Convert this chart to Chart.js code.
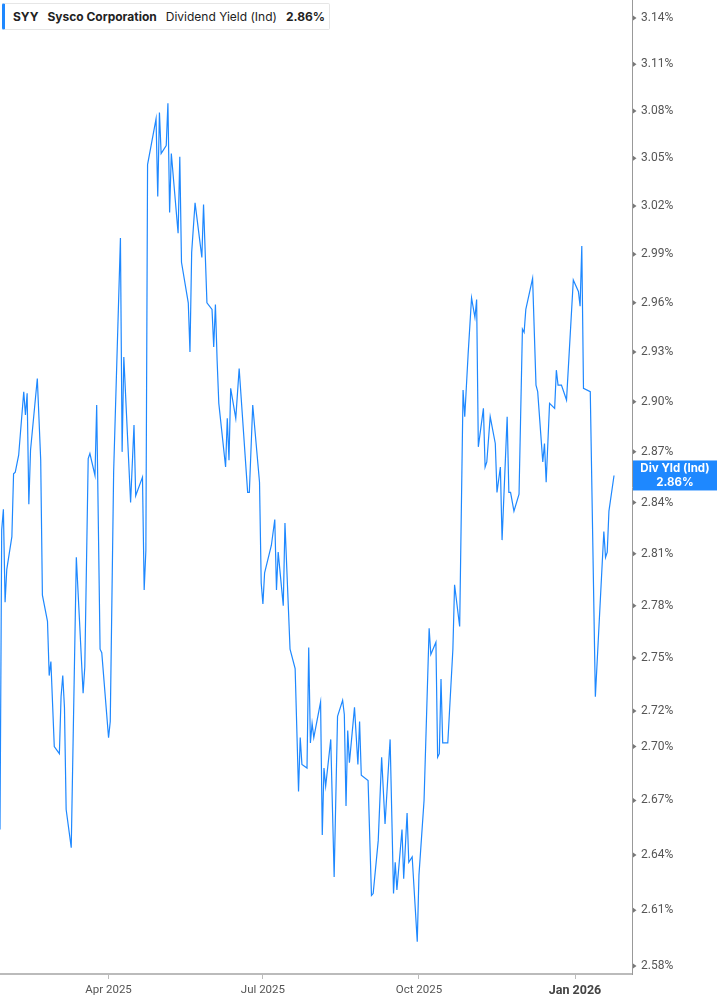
<!DOCTYPE html>
<html lang="en">
  <head>
    <script src="https://cdn.jsdelivr.net/npm/chart.js"></script>
    <style>
      body { margin: 0; background: #fff; }
      #wrap { position: relative; width: 717px; height: 1005px; }
      #legend {
        position: absolute; left: 2px; top: 3px; height: 27px; width: 328px;
        box-sizing: border-box; border: 1px solid #e6e6e6; border-left: 3px solid #1e88ff;
        border-radius: 2px; background: #fff;
        font: 12px Inter, 'Noto Sans', sans-serif; color: #222;
        display: flex; align-items: center; padding-left: 8px; white-space: nowrap;
      }
      #legend span { margin-right: 9px; }
      #legend b { font-weight: 700; }
    </style>
  </head>
  <body>
    <div id="wrap">
      <canvas id="chart"></canvas>
      <div id="legend">
        <span><b>SYY</b></span><span><b>Sysco Corporation</b></span><span>Dividend Yield (Ind)</span><span><b id="lastVal"></b></span>
      </div>
    </div>
    <script type="text/javascript">
      // dividend yield (ind), %
      const dates = [
        '2025-01-27', '2025-01-28', '2025-01-29', '2025-01-30', '2025-01-31', '2025-02-03', '2025-02-04', '2025-02-05',
        '2025-02-07', '2025-02-10', '2025-02-11', '2025-02-12', '2025-02-13', '2025-02-14', '2025-02-18', '2025-02-20',
        '2025-02-21', '2025-02-24', '2025-02-25', '2025-02-26', '2025-02-28', '2025-03-03', '2025-03-04', '2025-03-05',
        '2025-03-06', '2025-03-07', '2025-03-10', '2025-03-13', '2025-03-17', '2025-03-18', '2025-03-20', '2025-03-21',
        '2025-03-24', '2025-03-25', '2025-03-27', '2025-03-28', '2025-04-01', '2025-04-02', '2025-04-04', '2025-04-08',
        '2025-04-09', '2025-04-10', '2025-04-14', '2025-04-16', '2025-04-17', '2025-04-21', '2025-04-22', '2025-04-23',
        '2025-04-24', '2025-04-29', '2025-04-30', '2025-05-01', '2025-05-02', '2025-05-05', '2025-05-06', '2025-05-07',
        '2025-05-08', '2025-05-12', '2025-05-13', '2025-05-14', '2025-05-18', '2025-05-19', '2025-05-20', '2025-05-22',
        '2025-05-26', '2025-05-27', '2025-05-29', '2025-06-01', '2025-06-02', '2025-06-03', '2025-06-04', '2025-06-05',
        '2025-06-09', '2025-06-10', '2025-06-11', '2025-06-12', '2025-06-15', '2025-06-17', '2025-06-22', '2025-06-23',
        '2025-06-25', '2025-06-29', '2025-06-30', '2025-07-01', '2025-07-02', '2025-07-06', '2025-07-08', '2025-07-09',
        '2025-07-10', '2025-07-13', '2025-07-14', '2025-07-17', '2025-07-20', '2025-07-22', '2025-07-23', '2025-07-24',
        '2025-07-27', '2025-07-28', '2025-07-29', '2025-07-30', '2025-07-31', '2025-08-04', '2025-08-05', '2025-08-06',
        '2025-08-07', '2025-08-10', '2025-08-12', '2025-08-14', '2025-08-17', '2025-08-18', '2025-08-19', '2025-08-20',
        '2025-08-21', '2025-08-24', '2025-08-26', '2025-08-27', '2025-08-28', '2025-09-01', '2025-09-03', '2025-09-04',
        '2025-09-07', '2025-09-09', '2025-09-11', '2025-09-14', '2025-09-16', '2025-09-17', '2025-09-18', '2025-09-21',
        '2025-09-22', '2025-09-24', '2025-09-25', '2025-09-27', '2025-09-30', '2025-10-01', '2025-10-04', '2025-10-07',
        '2025-10-08', '2025-10-11', '2025-10-12', '2025-10-13', '2025-10-14', '2025-10-15', '2025-10-18', '2025-10-21',
        '2025-10-22', '2025-10-25', '2025-10-27', '2025-10-28', '2025-10-30', '2025-11-01', '2025-11-03', '2025-11-04',
        '2025-11-05', '2025-11-08', '2025-11-09', '2025-11-10', '2025-11-12', '2025-11-15', '2025-11-16', '2025-11-18',
        '2025-11-19', '2025-11-22', '2025-11-23', '2025-11-24', '2025-11-26', '2025-11-29', '2025-12-01', '2025-12-02',
        '2025-12-03', '2025-12-07', '2025-12-09', '2025-12-10', '2025-12-13', '2025-12-14', '2025-12-15', '2025-12-17',
        '2025-12-20', '2025-12-21', '2025-12-22', '2025-12-24', '2025-12-27', '2025-12-31', '2026-01-03', '2026-01-04',
        '2026-01-05', '2026-01-06', '2026-01-10', '2026-01-13', '2026-01-18', '2026-01-19', '2026-01-20', '2026-01-21',
        '2026-01-24'
      ];
      const yields = [
        2.654, 2.824, 2.836, 2.782, 2.801, 2.820, 2.857, 2.858,
        2.868, 2.906, 2.892, 2.905, 2.839, 2.871, 2.914, 2.865,
        2.786, 2.771, 2.740, 2.748, 2.700, 2.696, 2.728, 2.740,
        2.722, 2.665, 2.644, 2.808, 2.730, 2.745, 2.866, 2.869,
        2.856, 2.898, 2.755, 2.753, 2.705, 2.714, 2.858, 3.000,
        2.870, 2.927, 2.840, 2.886, 2.844, 2.855, 2.789, 2.812,
        3.046, 3.075, 3.026, 3.079, 3.053, 3.058, 3.085, 3.016,
        3.053, 3.003, 3.051, 2.985, 2.960, 2.930, 2.991, 3.022,
        2.988, 3.021, 2.960, 2.956, 2.933, 2.959, 2.925, 2.899,
        2.861, 2.890, 2.865, 2.908, 2.890, 2.920, 2.846, 2.846,
        2.898, 2.852, 2.793, 2.781, 2.799, 2.815, 2.830, 2.789,
        2.811, 2.780, 2.828, 2.755, 2.744, 2.675, 2.705, 2.690,
        2.688, 2.756, 2.702, 2.713, 2.705, 2.725, 2.651, 2.688,
        2.678, 2.704, 2.628, 2.717, 2.726, 2.718, 2.667, 2.709,
        2.691, 2.722, 2.690, 2.714, 2.684, 2.681, 2.618, 2.619,
        2.648, 2.694, 2.657, 2.704, 2.619, 2.636, 2.621, 2.654,
        2.627, 2.663, 2.636, 2.639, 2.593, 2.629, 2.670, 2.767,
        2.752, 2.759, 2.694, 2.696, 2.738, 2.702, 2.702, 2.755,
        2.792, 2.768, 2.907, 2.891, 2.929, 2.963, 2.951, 2.962,
        2.873, 2.896, 2.861, 2.864, 2.891, 2.875, 2.846, 2.861,
        2.818, 2.891, 2.846, 2.846, 2.835, 2.845, 2.944, 2.942,
        2.956, 2.975, 2.910, 2.906, 2.864, 2.875, 2.852, 2.899,
        2.896, 2.919, 2.910, 2.910, 2.901, 2.974, 2.967, 2.958,
        2.995, 2.908, 2.906, 2.728, 2.823, 2.808, 2.811, 2.835,
        2.856
      ];
      const yTicks = [2.58, 2.61, 2.64, 2.67, 2.70, 2.72, 2.75, 2.78, 2.81, 2.84, 2.87, 2.90, 2.93, 2.96, 2.99, 3.02, 3.05, 3.08, 3.11, 3.14];
      const xTickDates = ['2025-04-01', '2025-07-01', '2025-10-01', '2026-01-01'];
      const xTickLabels = ['Apr 2025', 'Jul 2025', 'Oct 2025', 'Jan 2026'];

      const BLUE = '#1e88ff';
      const dayNum = (s) => {
        const [y, m, d] = s.split('-').map(Number);
        return Date.UTC(y, m - 1, d) / 86400000;
      };
      const lastVal = yields[yields.length - 1];
      document.getElementById('lastVal').textContent = lastVal.toFixed(2) + '%';

      // little arrow marks on the right axis + current value box
      const axisExtras = {
        id: 'axisExtras',
        afterDraw(chart) {
          const ctx = chart.ctx;
          const ys = chart.scales.y;
          const right = chart.chartArea.right;
          ctx.save();
          ctx.fillStyle = '#777';
          ys.ticks.forEach((t) => {
            const py = ys.getPixelForValue(t.value);
            ctx.beginPath();
            ctx.moveTo(right + 1, py - 2.5);
            ctx.lineTo(right + 4.5, py);
            ctx.lineTo(right + 1, py + 2.5);
            ctx.closePath();
            ctx.fill();
          });
          const py = ys.getPixelForValue(lastVal);
          ctx.fillStyle = BLUE;
          ctx.fillRect(right + 1, py - 15, chart.width - right - 1, 30);
          ctx.fillStyle = '#fff';
          ctx.font = 'bold 11.5px Inter, "Noto Sans", sans-serif';
          ctx.textAlign = 'center';
          ctx.textBaseline = 'middle';
          const cx = (right + 1 + chart.width) / 2;
          ctx.fillText('Div Yld (Ind)', cx, py - 6.5);
          ctx.fillText(lastVal.toFixed(2) + '%', cx, py + 7);
          ctx.restore();
        },
      };

      const apr1 = dayNum('2025-04-01');
      myChart = new Chart(document.getElementById('chart'), {
        type: 'line',
        data: {
          datasets: [
            {
              label: 'Dividend Yield (Ind)',
              data: dates.map((d, i) => ({ x: dayNum(d), y: yields[i] })),
              borderColor: BLUE,
              borderWidth: 1.2,
              pointRadius: 0,
              tension: 0,
              fill: false,
            },
          ],
        },
        options: {
          responsive: true,
          maintainAspectRatio: false,
          animation: false,
          layout: { padding: 0 },
          plugins: { legend: { display: false }, tooltip: { enabled: false } },
          scales: {
            x: {
              type: 'linear',
              min: dayNum(dates[0]),
              max: apr1 + 308.6,
              afterBuildTicks: (scale) => {
                scale.ticks = xTickDates.map((d) => ({ value: dayNum(d) }));
              },
              afterFit: (scale) => {
                scale.height = 31;
                scale.paddingLeft = 0;
                scale.paddingRight = 0;
              },
              grid: { drawOnChartArea: false, drawTicks: true, tickLength: 5, color: '#bbb' },
              border: { display: true, color: '#bbb', width: 2 },
              ticks: {
                autoSkip: false,
                maxRotation: 0,
                padding: 4,
                color: (c) => (c.index === 3 ? '#444' : '#555'),
                font: (c) => (c.index === 3
                  ? { family: 'Roboto', size: 12.5, weight: 'bold' }
                  : { family: 'Roboto', size: 11.5 }),
                callback: (v) => {
                  const i = xTickDates.findIndex((d) => dayNum(d) === v);
                  return i >= 0 ? xTickLabels[i] : '';
                },
              },
            },
            y: {
              type: 'logarithmic',
              position: 'right',
              min: 2.5757,
              max: 3.1517,
              afterBuildTicks: (scale) => {
                scale.ticks = yTicks.map((v) => ({ value: v }));
              },
              afterFit: (scale) => {
                scale.width = 85;
                scale.paddingTop = 0;
                scale.paddingBottom = 0;
              },
              grid: { display: false, drawTicks: false },
              border: { display: true, color: '#999', width: 1 },
              ticks: {
                padding: 9,
                color: '#555',
                font: { family: 'Roboto', size: 12 },
                callback: (v) => Number(v).toFixed(2) + '%',
              },
            },
          },
        },
        plugins: [axisExtras],
      });
    </script>
  </body>
</html>
